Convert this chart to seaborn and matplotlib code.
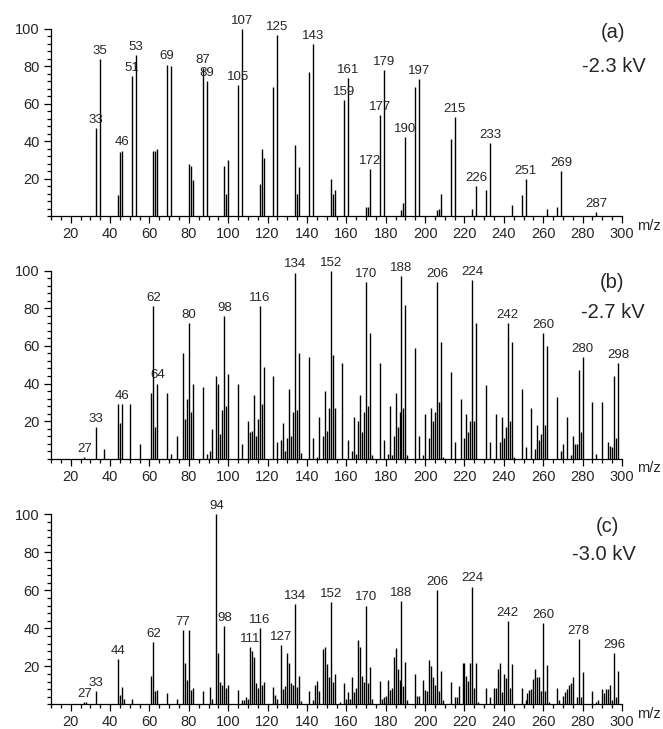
import numpy as np
import pandas as pd
import seaborn as sns
import matplotlib.pyplot as plt
from matplotlib.ticker import MultipleLocator

sns.set_theme(style='ticks', rc={
    'axes.spines.right': False,
    'axes.spines.top': False,
    'xtick.direction': 'out',
    'ytick.direction': 'out'})
plt.rcParams['font.family'] = ['Liberation Sans', 'DejaVu Sans']

# panel (a) -2.3 kV
mz_a = [33, 35, 44, 45, 46, 51, 53, 62, 63, 64, 69, 71, 80, 81, 82, 87, 89, 98, 99, 100,
        105, 107, 116, 117, 118, 123, 125, 134, 135, 136, 141, 143, 152, 153, 154, 159, 161,
        170, 171, 172, 177, 179, 188, 189, 190, 195, 197, 206, 207, 208, 213, 215, 224, 226,
        231, 233, 244, 249, 251, 262, 267, 269, 287]
int_a = [47, 84, 11, 34, 35, 75, 86, 35, 35, 36, 81, 80, 28, 27, 19, 79, 72, 27, 12, 30,
         70, 100, 17, 36, 31, 69, 97, 38, 12, 26, 77, 92, 20, 12, 14, 62, 74,
         5, 5, 25, 54, 78, 3, 7, 42, 69, 73, 3, 4, 12, 41, 53, 4, 16,
         14, 39, 6, 11, 20, 4, 5, 24, 2]
labels_a = [33, 35, 46, 51, 53, 69, 87, 89, 105, 107, 125, 143, 159, 161, 172, 177, 179,
            190, 197, 215, 226, 233, 251, 269, 287]

# panel (b) -2.7 kV
mz_b = [27, 33, 37, 44, 45, 46, 50, 55, 61, 62, 63, 64, 69, 71, 74, 77, 78, 79, 80, 81, 82,
        87, 89, 91, 92, 94, 95, 96, 97, 98, 99, 100, 105, 107, 110, 111, 112, 113, 114, 115,
        116, 117, 118, 123, 125, 127, 128, 129, 130, 131, 132, 133, 134, 135, 136, 137, 141,
        143, 145, 146, 148, 149, 150, 151, 152, 153, 154, 158, 161, 163, 164, 165, 166, 167,
        168, 169, 170, 171, 172, 173, 177, 179, 181, 182, 183, 184, 185, 186, 187, 188, 189,
        190, 191, 195, 197, 199, 200, 202, 203, 204, 205, 206, 207, 208, 209, 213, 215, 218,
        220, 221, 222, 223, 224, 225, 226, 231, 233, 236, 238, 239, 240, 241, 242, 243, 244,
        245, 249, 251, 254, 256, 257, 258, 259, 260, 261, 262, 267, 269, 270, 272, 274, 275,
        276, 277, 278, 279, 280, 285, 287, 290, 293, 294, 295, 296, 297, 298]
int_b = [1, 17, 5, 29, 19, 29, 29, 8, 35, 81, 17, 40, 35, 2.5, 12, 56, 21, 32, 72, 25, 40,
         38, 2.5, 4, 16, 44, 40, 13, 26, 76, 28, 45, 40, 8, 20, 14, 15, 34, 12, 21,
         81, 29, 49, 44, 9, 10, 19, 4, 11, 37, 12, 25, 99, 26, 56, 3, 54,
         11, 1, 22, 12, 36, 15, 27, 100, 55, 27, 51, 10, 4, 22, 2.5, 20, 34,
         14, 25, 94, 28, 67, 2, 51, 10, 2.5, 28, 2, 12, 35, 17, 25, 97, 27,
         82, 2, 59, 12, 2, 24, 11, 27, 20, 25, 94, 30, 62, 1, 46, 9, 32,
         11, 24, 14, 20, 95, 20, 72, 39, 9, 24, 9, 22, 11, 17, 72, 20, 62,
         1, 37, 6, 27, 5, 18, 10, 13, 67, 18, 60, 33, 4, 8, 22, 2, 12,
         8, 8, 47, 14, 54, 30, 2.5, 30, 9, 7, 6, 44, 11, 51]
labels_b = [27, 33, 46, 62, 64, 80, 98, 116, 134, 152, 170, 188, 206, 224, 242, 260, 280, 298]

# panel (c) -3.0 kV
mz_c = [27, 28, 33, 44, 45, 46, 47, 51, 61, 62, 63, 64, 69, 74, 77, 78, 79, 80, 81, 82, 87,
        91, 92, 94, 95, 96, 97, 98, 99, 100, 105, 107, 108, 109, 110, 111, 112, 113, 114,
        115, 116, 117, 118, 123, 124, 125, 127, 128, 129, 130, 131, 132, 133, 134, 135, 136,
        137, 141, 143, 144, 145, 146, 148, 149, 150, 151, 152, 153, 154, 157, 159, 160, 161,
        162, 163, 164, 165, 166, 167, 168, 169, 170, 171, 172, 173, 177, 178, 179, 180, 181,
        182, 183, 184, 185, 186, 187, 188, 189, 190, 191, 195, 196, 197, 199, 200, 201, 202,
        203, 204, 205, 206, 207, 208, 209, 213, 215, 216, 217, 219, 220, 221, 222, 223, 224,
        225, 226, 227, 231, 233, 235, 236, 237, 238, 239, 240, 241, 242, 243, 244, 249, 251,
        252, 253, 254, 255, 256, 257, 258, 259, 260, 261, 262, 263, 267, 268, 270, 271, 272,
        273, 274, 275, 277, 278, 279, 280, 285, 287, 288, 290, 291, 292, 293, 294, 295, 296,
        297, 298]
int_c = [1, 1, 7, 24, 5, 9, 2.6, 3, 15, 33, 7, 7.5, 6, 3, 39, 22, 13, 39, 7.5, 8.4, 7,
         9, 2.6, 100, 27, 12, 10, 41, 8.4, 10, 7.5, 2.3, 2.3, 4, 2.6, 30, 28, 25, 11,
         8.4, 40, 10, 12, 9, 5, 2.6, 31, 8, 9.6, 27, 22, 11, 10, 53, 9, 15,
         2, 7, 2.3, 10, 12.5, 7, 29, 30, 21, 14.5, 54, 11.6, 16, 1, 11, 2.6, 6.3,
         2.6, 14.5, 6.3, 8.4, 34, 30, 15, 11.6, 52, 11.4, 19.5, 2.8, 12.3, 2.6, 4, 4.6, 12.8,
         7.5, 8.8, 25, 29.5, 18.6, 12.8, 54.5, 9.8, 22.4, 2.3, 16, 4.4, 4.4, 12.8, 7.5, 7, 23.3,
         19.9, 14.5, 10.2, 60, 7.2, 17.7, 2.3, 11.6, 4, 3.6, 9.8, 21.9, 21.9, 14.9, 12.5, 21.9, 62,
         8.4, 21.9, 1, 8.8, 3.6, 8.8, 8.8, 18.6, 21.6, 6.3, 16, 13.7, 44, 8.4, 21.2, 8.8, 2.3,
         5.8, 7.5, 8, 13.3, 18.4, 14.5, 14.2, 7.2, 43, 7, 20.7, 1, 8.4, 2.3, 4.4, 6.3, 8,
         10.2, 11.4, 14.5, 3.6, 34.4, 3.6, 16.8, 7.2, 1, 2.3, 8, 5.8, 8, 8, 10.2, 2.3, 27.2,
         3.6, 17.5]
labels_c = [27, 33, 44, 62, 77, 94, 98, 111, 116, 127, 134, 152, 170, 188, 206, 224, 242,
            260, 278, 296]

panels = [
    ('(a)', '-2.3 kV', mz_a, int_a, labels_a),
    ('(b)', '-2.7 kV', mz_b, int_b, labels_b),
    ('(c)', '-3.0 kV', mz_c, int_c, labels_c),
]

W, H = 663, 729
fig = plt.figure(figsize=(W / 100, H / 100), dpi=100)
fig.patch.set_facecolor('white')

# axes boxes in pixels: (baseline y, top y)
boxes = [(216, 29), (458.7, 270.7), (704.3, 514.3)]
tag_pos = [((613, 33), (614, 67)), ((612, 282), (613, 312)), ((607, 526), (604, 555))]

for (tag, volt, mz, inten, labels), (ybase, ytop), (tp, vp) in zip(panels, boxes, tag_pos):
    ax = fig.add_axes([51 / W, 1 - ybase / H, (622 - 51) / W, (ybase - ytop) / H])
    ax.set_facecolor('white')
    df = pd.DataFrame({'mz': mz, 'intensity': inten})
    ax.vlines(df['mz'], 0, df['intensity'], color='black', lw=1.0)

    ax.set_xlim(10, 300)
    ax.set_ylim(0, 100)
    ax.xaxis.set_major_locator(MultipleLocator(20))
    ax.xaxis.set_minor_locator(MultipleLocator(5))
    ax.set_yticks([20, 40, 60, 80, 100])
    ax.yaxis.set_minor_locator(MultipleLocator(4))
    ax.tick_params(which='major', length=5, width=0.9, color='black', labelsize=10.5, pad=3)
    ax.tick_params(which='minor', length=3, width=0.9, color='black')
    ax.tick_params(axis='y', which='major', pad=3)
    for sp in ['left', 'bottom']:
        ax.spines[sp].set_color('black')
        ax.spines[sp].set_linewidth(0.9)
    ax.set_xlabel('')
    ax.set_ylabel('')

    # peak labels
    lookup = dict(zip(mz, inten))
    for m in labels:
        ax.annotate(str(m), xy=(m, lookup[m]), xytext=(0, 1.5), textcoords='offset points',
                    ha='center', va='bottom', fontsize=9.5,
                    family=['Liberation Sans Narrow', 'Liberation Sans'])

    ax.annotate('m/z', xy=(1, 0), xycoords='axes fraction', xytext=(11, -7),
                textcoords='offset points', ha='left', va='center', fontsize=10.5)

    fig.text(tp[0] / W, 1 - tp[1] / H, tag, ha='center', va='center', fontsize=14.5)
    fig.text(vp[0] / W, 1 - vp[1] / H, volt, ha='center', va='center', fontsize=14.5)

fig.savefig('out.png', dpi=100, facecolor='white')
